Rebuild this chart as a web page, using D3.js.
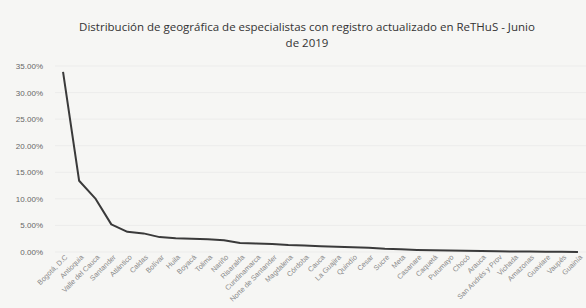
<!DOCTYPE html>
<html><head><meta charset="utf-8">
<script src="https://cdn.jsdelivr.net/npm/d3@7"></script>
<style>body{margin:0;background:#f6f6f4}svg{display:block}</style>
</head><body><svg id="c" width="586" height="308"></svg>
<script>
const categories = ["Bogotá, D.C","Antioquia","Valle del Cauca","Santander","Atlántico","Caldas","Bolívar","Huila","Boyacá","Tolima","Nariño","Risaralda","Cundinamarca","Norte de Santander","Magdalena","Córdoba","Cauca","La Guajira","Quindío","Cesar","Sucre","Meta","Casanare","Caquetá","Putumayo","Chocó","Arauca","San Andrés y Prov","Vichada","Amazonas","Guaviare","Vaupés","Guainía"];
const values = [33.9,13.4,10.1,5.2,3.8,3.5,2.8,2.6,2.5,2.4,2.2,1.7,1.6,1.5,1.3,1.2,1.1,1.0,0.9,0.8,0.6,0.5,0.38,0.32,0.27,0.22,0.17,0.13,0.1,0.08,0.06,0.04,0.02];
const yTicks = [0,5,10,15,20,25,30,35];
const titleLines = ["Distribución de geográfica de especialistas con registro actualizado en ReTHuS - Junio","de 2019"];

const svg = d3.select("#c");
const m = {left:55, right:0, top:66, bottom:252};
const x = d3.scaleBand().domain(categories).range([m.left, 586-m.right]);
const y = d3.scaleLinear().domain([0,35]).range([m.bottom, m.top]);

svg.append("g").selectAll("line").data(yTicks).join("line")
  .attr("x1", m.left).attr("x2", 586).attr("y1", d=>y(d)).attr("y2", d=>y(d))
  .attr("stroke", "#ececeb").attr("stroke-width", 1);

const ya = svg.append("g").attr("transform", `translate(${m.left-9},0)`)
  .call(d3.axisLeft(y).tickValues(yTicks).tickSize(0).tickFormat(d=>d.toFixed(2)+"%"));
ya.select(".domain").remove();
ya.selectAll("text").attr("fill","#666").style("font-family","Liberation Sans, Arial, sans-serif").style("font-size","8px");

const xa = svg.append("g").attr("transform", `translate(0,${m.bottom+5})`)
  .call(d3.axisBottom(x).tickSize(0));
xa.select(".domain").remove();
xa.selectAll("text").attr("fill","#888").style("font-family","Liberation Sans, Arial, sans-serif").style("font-size","7.2px")
  .attr("text-anchor","end").attr("dy",0).attr("dx",0).attr("y",4).attr("x",3)
  .attr("transform","rotate(-45)");

const line = d3.line().x((d,i)=>x(categories[i])+x.bandwidth()/2).y(d=>y(d));
svg.append("path").datum(values).attr("d", line).attr("fill","none")
  .attr("stroke","#3a3a3a").attr("stroke-width",2).attr("stroke-linejoin","round");

svg.append("g").selectAll("text").data(titleLines).join("text")
  .attr("x", 307).attr("y",(d,i)=>31+i*16).attr("text-anchor","middle")
  .attr("fill","#333").style("font-family","Open Sans, sans-serif").style("font-size","11.5px")
  .text(d=>d);
</script></body></html>
